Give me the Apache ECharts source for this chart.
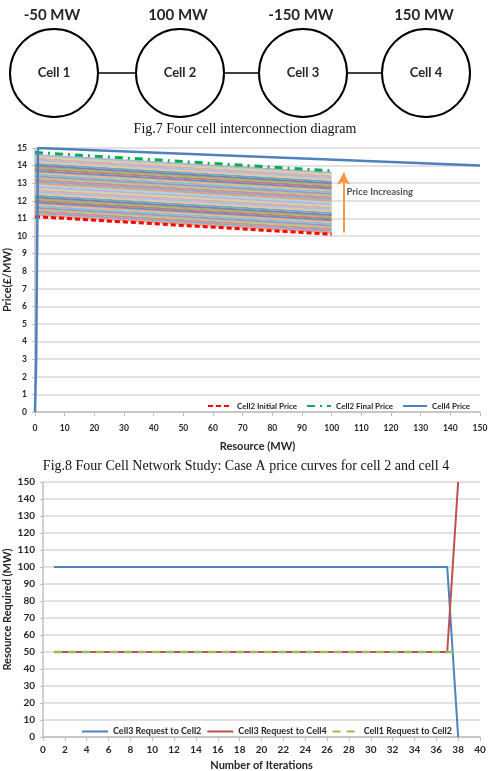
<!DOCTYPE html>
<html>
<head>
    <meta charset="utf-8">
    <title>Four cell network study</title>
    <script src="https://cdn.jsdelivr.net/npm/echarts@6/dist/echarts.min.js"></script>
    <style>
        html, body { margin: 0; padding: 0; background: #fff; }
        #main { width: 491px; height: 771px; }
    </style>
</head>
<body>
<div id="main"></div>
<script type="text/javascript">
    // Fig.7 diagram
    var cellNames = ['Cell 1', 'Cell 2', 'Cell 3', 'Cell 4'];
    var cellPower = ['-50 MW', '100 MW', '-150 MW', '150 MW'];

    // Fig.8 price curves (resource MW, price)
    var cell2Initial = [[0, 11.1], [100, 10.1]];
    var cell2Final = [[0, 14.75], [100, 13.7]];
    var cell4Price = [[0, 0], [0.4, 3], [1, 15], [150, 14]];
    // intermediate iteration curves, start at 0 MW and end at 100 MW
    var iterStart = [11.2, 11.3, 11.4, 11.5, 11.6, 11.7, 11.8, 11.9, 12.0, 12.1, 12.2, 12.3,
        12.4, 12.5, 12.6, 12.7, 12.8, 12.9, 13.0, 13.1, 13.2, 13.3, 13.4, 13.5,
        13.6, 13.7, 13.8, 13.9, 14.0, 14.1, 14.2, 14.3, 14.4, 14.5, 14.6];
    var iterEnd = [10.2, 10.3, 10.4, 10.5, 10.6, 10.7, 10.8, 10.9, 11.0, 11.1, 11.2, 11.3,
        11.4, 11.5, 11.6, 11.7, 11.8, 11.9, 12.0, 12.1, 12.2, 12.3, 12.4, 12.5,
        12.6, 12.7, 12.8, 12.9, 13.0, 13.1, 13.2, 13.3, 13.4, 13.5, 13.6];
    var arrowStart = [104, 10.2];
    var arrowEnd = [104, 13.6];
    var arrowLabelAt = [105, 12.5];

    // Fig.9 iterations
    var iterations = [1, 2, 3, 4, 5, 6, 7, 8, 9, 10, 11, 12, 13, 14, 15, 16, 17, 18, 19,
        20, 21, 22, 23, 24, 25, 26, 27, 28, 29, 30, 31, 32, 33, 34, 35, 36, 37, 38];
    var cell3ToCell2 = [100, 100, 100, 100, 100, 100, 100, 100, 100, 100, 100, 100, 100,
        100, 100, 100, 100, 100, 100, 100, 100, 100, 100, 100, 100, 100, 100, 100, 100,
        100, 100, 100, 100, 100, 100, 100, 100, 0];
    var cell3ToCell4 = [50, 50, 50, 50, 50, 50, 50, 50, 50, 50, 50, 50, 50, 50, 50, 50,
        50, 50, 50, 50, 50, 50, 50, 50, 50, 50, 50, 50, 50, 50, 50, 50, 50, 50, 50, 50, 50, 150];
    var cell1ToCell2 = [50, 50, 50, 50, 50, 50, 50, 50, 50, 50, 50, 50, 50, 50, 50, 50,
        50, 50, 50, 50, 50, 50, 50, 50, 50, 50, 50, 50, 50, 50, 50, 50, 50, 50, 50, 50, 50, 50];

    var bandColors = ['#E6A07A', '#8EA9D4', '#D98C8A', '#B3C98A', '#A493C2', '#7FC3D6',
        '#F4B183', '#6D8EC0', '#C77B79', '#9FB96D', '#8C78AE', '#5FAFC6',
        '#F2C29E', '#A9BFE0', '#E3A9A7', '#C8D9A8', '#BDB0D6', '#A6D6E3'];

    var FONT = 'Lato';
    var grey = '#BFBFBF';
    var ink = '#262626';

    function pairs(xs, ys) {
        return xs.map(function (x, i) { return [x, ys[i]]; });
    }

    var myChart = echarts.init(document.getElementById('main'));

    // diagram drawn as graphic elements
    var cx = [54, 180, 303, 426], cy = 73, r = 44;
    var graphics = [];
    for (var i = 0; i < 3; i++) {
        graphics.push({
            type: 'line',
            shape: {x1: cx[i] + r, y1: cy, x2: cx[i + 1] - r, y2: cy},
            style: {stroke: '#000', lineWidth: 1.5}
        });
    }
    cellNames.forEach(function (name, i) {
        graphics.push({
            type: 'circle',
            shape: {cx: cx[i], cy: cy, r: r},
            style: {fill: '#fff', stroke: '#000', lineWidth: 2}
        });
        graphics.push({
            type: 'text', x: cx[i], y: cy,
            style: {text: name, font: 'bold 13px Lato', fill: ink, align: 'center', verticalAlign: 'middle'}
        });
        graphics.push({
            type: 'text', x: cx[i] - 2, y: 15,
            style: {text: cellPower[i], font: 'bold 15px Lato', fill: ink, align: 'center', verticalAlign: 'middle'}
        });
    });
    graphics.push({
        type: 'text', x: 245, y: 129,
        style: {text: 'Fig.7 Four cell interconnection diagram', font: '14px "Liberation Serif"',
            fill: '#111', align: 'center', verticalAlign: 'middle'}
    });
    graphics.push({
        type: 'text', x: 246, y: 466,
        style: {text: 'Fig.8 Four Cell Network Study: Case A price curves for cell 2 and cell 4',
            font: '14px "Liberation Serif"', fill: '#111', align: 'center', verticalAlign: 'middle'}
    });

    var series = [];
    iterStart.forEach(function (s, i) {
        series.push({
            name: 'iter' + i, type: 'line', xAxisIndex: 0, yAxisIndex: 0,
            data: [[0, s], [100, iterEnd[i]]],
            symbol: 'none', silent: true,
            lineStyle: {color: bandColors[i % bandColors.length], width: 2}
        });
    });
    series.push({
        name: 'Cell2 Initial Price', type: 'line', xAxisIndex: 0, yAxisIndex: 0,
        data: cell2Initial, symbol: 'none',
        lineStyle: {color: '#FF0000', width: 3, type: [5, 3]}, itemStyle: {color: '#FF0000'}
    });
    series.push({
        name: 'Cell2 Final Price', type: 'line', xAxisIndex: 0, yAxisIndex: 0,
        data: cell2Final, symbol: 'none',
        lineStyle: {color: '#00B050', width: 3, type: [8, 5, 2, 5]}, itemStyle: {color: '#00B050'},
        markLine: {
            silent: true, symbol: ['none', 'arrow'], symbolSize: [10, 12],
            lineStyle: {color: '#F79646', width: 2, type: 'solid'},
            label: {show: false},
            data: [[{coord: arrowStart}, {coord: arrowEnd}]]
        }
    });
    series.push({
        name: 'Cell4 Price', type: 'line', xAxisIndex: 0, yAxisIndex: 0,
        data: cell4Price, symbol: 'none',
        lineStyle: {color: '#4F81BD', width: 2.5}, itemStyle: {color: '#4F81BD'}
    });
    series.push({
        name: 'note', type: 'scatter', xAxisIndex: 0, yAxisIndex: 0,
        data: [arrowLabelAt], symbolSize: 0, silent: true,
        label: {show: true, position: 'right', distance: 0, formatter: 'Price Increasing',
            fontFamily: FONT, fontWeight: 'bold', fontSize: 9.5, color: ink}
    });
    series.push({
        name: 'Cell3 Request to Cell2', type: 'line', xAxisIndex: 1, yAxisIndex: 1,
        data: pairs(iterations, cell3ToCell2), symbol: 'none',
        lineStyle: {color: '#4F81BD', width: 2}, itemStyle: {color: '#4F81BD'}
    });
    series.push({
        name: 'Cell3 Request to Cell4', type: 'line', xAxisIndex: 1, yAxisIndex: 1,
        data: pairs(iterations, cell3ToCell4), symbol: 'none',
        lineStyle: {color: '#C0504D', width: 2}, itemStyle: {color: '#C0504D'}
    });
    series.push({
        name: 'Cell1 Request to Cell2', type: 'line', xAxisIndex: 1, yAxisIndex: 1,
        data: pairs(iterations, cell1ToCell2), symbol: 'none',
        lineStyle: {color: '#9BBB59', width: 2.5, type: [8, 6]}, itemStyle: {color: '#9BBB59'}
    });

    var axisLabel1 = {fontFamily: FONT, fontWeight: 'bold', fontSize: 8.5, color: ink};
    var axisLabel2 = {fontFamily: FONT, fontWeight: 'bold', fontSize: 10, color: ink};
    var nameStyle = {fontFamily: FONT, fontWeight: 'bold', fontSize: 11, color: ink};

    var option = {
        animation: false,
        backgroundColor: '#fff',
        graphic: graphics,
        grid: [
            {left: 35, right: 11, top: 148, height: 264, outerBoundsMode: 'none', containLabel: false},
            {left: 43, right: 11, top: 482, height: 255, outerBoundsMode: 'none', containLabel: false}
        ],
        legend: [
            {
                data: ['Cell2 Initial Price', 'Cell2 Final Price', 'Cell4 Price'],
                left: 202, top: 397, itemWidth: 24, itemHeight: 10, itemGap: 9,
                itemStyle: {opacity: 0},
                textStyle: {fontFamily: FONT, fontWeight: 'bold', fontSize: 8, color: ink}
            },
            {
                data: ['Cell3 Request to Cell2', 'Cell3 Request to Cell4', 'Cell1 Request to Cell2'],
                left: 76, top: 722, itemWidth: 26, itemHeight: 10, itemGap: 5,
                itemStyle: {opacity: 0},
                textStyle: {fontFamily: FONT, fontWeight: 'bold', fontSize: 9, color: ink}
            }
        ],
        xAxis: [
            {
                type: 'value', gridIndex: 0, min: 0, max: 150, interval: 10,
                name: 'Resource (MW)', nameLocation: 'middle', nameGap: 29, nameMoveOverlap: false,
                nameTextStyle: nameStyle,
                axisLine: {lineStyle: {color: grey, width: 1.5}},
                axisTick: {show: true, length: 4, lineStyle: {color: grey}},
                axisLabel: Object.assign({margin: 12}, axisLabel1),
                splitLine: {show: false}
            },
            {
                type: 'value', gridIndex: 1, min: 0, max: 40, interval: 2,
                name: 'Number of Iterations', nameLocation: 'middle', nameGap: 23, nameMoveOverlap: false,
                nameTextStyle: nameStyle,
                axisLine: {lineStyle: {color: grey, width: 1.5}},
                axisTick: {show: true, length: 4, lineStyle: {color: grey}},
                axisLabel: Object.assign({margin: 8}, axisLabel2),
                splitLine: {show: false}
            }
        ],
        yAxis: [
            {
                type: 'value', gridIndex: 0, min: 0, max: 15, interval: 1,
                name: 'Price(£/MW)', nameLocation: 'middle', nameGap: 22, nameMoveOverlap: false,
                nameTextStyle: nameStyle,
                axisLine: {show: true, lineStyle: {color: grey, width: 1.5}},
                axisTick: {show: true, length: 3, lineStyle: {color: grey}},
                axisLabel: Object.assign({margin: 8}, axisLabel1),
                splitLine: {lineStyle: {color: '#D9D9D9', width: 1.5}}
            },
            {
                type: 'value', gridIndex: 1, min: 0, max: 150, interval: 10,
                name: 'Resource Required (MW)', nameLocation: 'middle', nameGap: 30, nameMoveOverlap: false,
                nameTextStyle: nameStyle,
                axisLine: {show: true, lineStyle: {color: grey, width: 1.5}},
                axisTick: {show: true, length: 3, lineStyle: {color: grey}},
                axisLabel: Object.assign({margin: 8}, axisLabel2),
                splitLine: {lineStyle: {color: '#D9D9D9', width: 1.5}}
            }
        ],
        series: series
    };
    myChart.setOption(option);
</script>
</body>
</html>
